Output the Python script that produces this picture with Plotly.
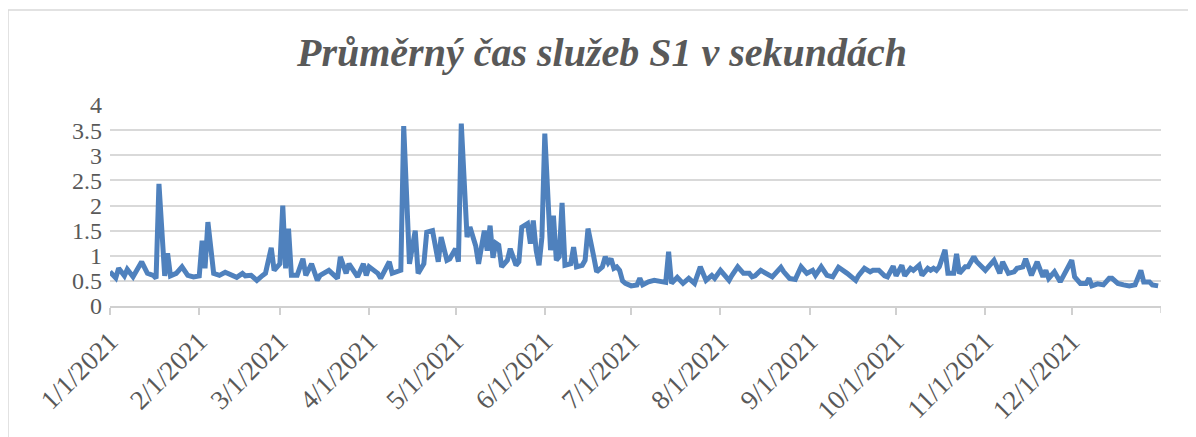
import pandas as pd
import plotly.graph_objects as go

# Day offsets from 1 Jan 2021 and average service time (seconds)
days = [
    0, 2, 3, 5, 6, 8, 11, 13, 15, 16, 17, 19, 20, 21, 23, 25, 27, 29, 31, 32, 33, 34, 36, 38, 40, 43,
    44, 46, 47, 49, 51, 53, 54, 56, 57, 59, 60, 61, 62, 63, 65, 67, 68, 70, 72, 73, 76, 79, 80, 82, 83, 86, 88, 89,
    90, 93, 94, 97, 98, 101, 102, 104, 106, 107, 109, 110, 112, 114, 115, 117, 118, 120, 121, 122,
    124, 125, 127, 128, 130, 131, 132, 133, 134, 135, 136,
    138, 139, 141, 142, 143, 145, 146, 147, 148, 149, 150, 151, 153, 154, 155, 156, 157, 158, 160, 161,
    162, 164, 165, 166, 168, 169, 171, 172, 173, 174, 175, 176, 177, 178, 179,
    181, 183, 184, 185, 187, 189, 191, 193, 194, 195, 197, 199, 201, 203, 205, 207, 209, 210, 212, 215,
    216, 218, 220, 222, 223,
    224, 226, 228, 230, 233, 234, 236, 238, 240, 242, 244, 245, 247, 249, 251, 253, 256, 259, 260, 262,
    264, 265, 267, 269, 270,
    272, 273, 275, 276, 278, 279, 281, 282, 284, 285, 286, 287, 288, 290, 291, 293, 294, 295, 297, 298,
    300, 301, 303, 304, 307, 309, 310, 312,
    314, 315, 317, 318, 320, 322, 324, 325, 326, 328, 330, 332, 334, 335, 337, 339, 340, 341, 343, 345,
    347, 348, 350, 352, 354, 356, 358, 359, 361, 362, 364,
]
values = [
    .68, .56, .75, .6, .73, .58, .88, .65, .61, .55, 2.43, .6, 1.05, .6, .65, .78, .61, .58, .6, 1.3, .75, 1.67, .65, .61, .67, .6,
    .57, .65, .6, .61, .51, .61, .65, 1.16, .71, .84, 2.0, .75, 1.54, .61, .61, .94, .61, .84, .51, .61, .71, .55, .98, .65, .84, .58, .84, .61,
    .78, .65, .55, .88, .65, .71, 3.58, .84, 1.5, .65, .84, 1.47, 1.5, .88, 1.37, .91, .94, 1.14, .88, 3.63,
    1.37, 1.57, 1.2, .84, 1.5, 1.1, 1.6, .96, 1.25, 1.21, .78,
    .91, 1.14, .81, .88, 1.57, 1.64, 1.24, 1.7, 1.11, .81, 1.37, 3.43, 1.11, 1.8, .91, .98, 2.05, .81, .84, 1.17,
    .78, .81, .91, 1.54, .98, .68, .78, .98, .86, .94, .75, .78, .71, .5, .45,
    .4, .42, .55, .42, .48, .51, .48, .47, 1.08, .45, .57, .45, .55, .45, .78, .51, .61, .55, .71, .51,
    .61, .78, .65, .65, .58,
    .6, .71, .65, .58, .77, .68, .55, .53, .78, .65, .71, .61, .78, .61, .58, .77, .65, .51, .61, .75,
    .68, .71, .71, .6, .58,
    .79, .6, .81, .6, .75, .71, .81, .61, .75, .71, .75, .71, .78, 1.12, .65, .65, 1.04, .65, .78, .78,
    .98, .88, .78, .71, .91, .65, .88, .65,
    .68, .75, .78, .94, .61, .88, .58, .71, .55, .68, .48, .68, .91, .58, .45, .45, .55, .4, .44, .42,
    .55, .55, .45, .42, .4, .42, .71, .48, .48, .42, .4,
]
title_text = "Průměrný čas služeb S1 v sekundách"
y_ticks = [0, 0.5, 1, 1.5, 2, 2.5, 3, 3.5, 4]
y_tick_labels = ["0", "0.5", "1", "1.5", "2", "2.5", "3", "3.5", "4"]
month_ticks = pd.date_range("2021-01-01", "2021-12-01", freq="MS")
month_labels = [f"{d.month}/{d.day}/{d.year}" for d in month_ticks]

dates = pd.Timestamp("2021-01-01") + pd.to_timedelta(days, unit="D")

# page has an 8px body margin, so the figure starts at (8, 8)
OFF = 8
W, H = 1196 - OFF, 437 - OFF
L, R, T, B = 110 - OFF, 35, 105 - OFF, 129
pw, ph = W - L - R, H - T - B


def px_x(page_x):
    return (page_x - OFF - L) / pw


def px_y(page_y):
    return (H - B - (page_y - OFF)) / ph


fig = go.Figure()
fig.add_trace(go.Scatter(
    x=dates, y=values, mode="lines",
    line=dict(color="#4f81bd", width=5, shape="linear"),
    hoverinfo="x+y", showlegend=False,
))

gray = "#595959"
font_family = "Liberation Serif, Times New Roman, serif"

fig.update_layout(
    width=W, height=H,
    margin=dict(l=L, r=R, t=T, b=B, pad=0),
    paper_bgcolor="white", plot_bgcolor="white",
    title=dict(
        text=f"<b><i>{title_text}</i></b>",
        x=0.5, xanchor="center", xref="container",
        y=1 - (52 - OFF) / H, yanchor="middle", yref="container",
        font=dict(family=font_family, size=40, color=gray),
    ),
    xaxis=dict(
        type="date",
        range=["2021-01-01", "2022-01-01"],
        tickmode="array", tickvals=list(month_ticks), ticktext=month_labels,
        tickangle=-45,
        tickfont=dict(family=font_family, size=27, color=gray),
        showgrid=False, zeroline=False,
        showline=True, linecolor="#d0d0d0", linewidth=1.5,
        ticks="outside", ticklen=7, tickcolor="#d0d0d0", tickwidth=1.5,
    ),
    yaxis=dict(
        range=[0, 4],
        tickmode="array", tickvals=y_ticks, ticktext=y_tick_labels,
        tickfont=dict(family=font_family, size=24, color=gray),
        showgrid=True, gridcolor="#d9d9d9", gridwidth=1.5,
        zeroline=False, showline=False, ticks="",
        ticklabelstandoff=7,
    ),
    shapes=[
        # outer chart border
        dict(type="rect", xref="paper", yref="paper",
             x0=px_x(8), x1=px_x(1190),
             y0=px_y(445), y1=px_y(9),
             line=dict(color="#d9d9d9", width=1.5), fillcolor="rgba(0,0,0,0)", layer="below"),
        # closing tick at axis end
        dict(type="line", xref="x", yref="paper",
             x0="2022-01-01", x1="2022-01-01", y0=0, y1=-7 / ph,
             line=dict(color="#d0d0d0", width=1.5)),
    ],
)

fig.write_html("out.html", config={"displayModeBar": False})
